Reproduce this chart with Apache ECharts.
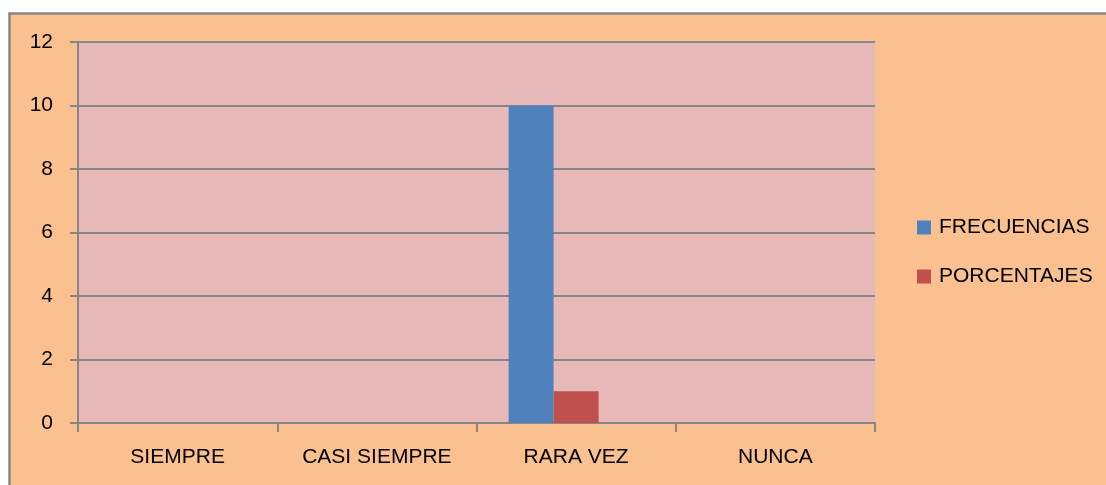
<!DOCTYPE html>
<html>
<head>
<meta charset="utf-8">
<script src="https://cdn.jsdelivr.net/npm/echarts@6/dist/echarts.min.js"></script>
<style>
html,body{margin:0;padding:0;background:#ffffff;}
#chart{width:1106px;height:485px;}
</style>
</head>
<body>
<div id="chart"></div>
<script>
const categories = ['SIEMPRE', 'CASI SIEMPRE', 'RARA VEZ', 'NUNCA'];
const frecuencias = [0, 0, 10, 0];
const porcentajes = [0, 0, 1, 0];
const tercera = [0, 0, 0, 0];
const seriesNames = ['FRECUENCIAS', 'PORCENTAJES'];
const yMin = 0, yMax = 12, yInterval = 2;

const FONT = "'Liberation Sans', Arial, sans-serif";
const FS = 21;
const GRAY = '#868686';
const chart = echarts.init(document.getElementById('chart'), null, {renderer: 'canvas'});
chart.setOption({
  animation: false,
  backgroundColor: '#ffffff',
  textStyle: {fontFamily: FONT},
  graphic: [{
    type: 'rect', z: -10, silent: true,
    shape: {x: 9.5, y: 13.5, width: 1200, height: 600},
    style: {fill: '#FAC090', stroke: GRAY, lineWidth: 2.5}
  }],
  grid: {
    left: 78, right: 231, top: 42, bottom: 62,
    show: true, backgroundColor: '#E6B9B8', borderWidth: 0
  },
  legend: {
    data: seriesNames,
    orient: 'vertical',
    padding: 0,
    left: 917, top: 217,
    itemWidth: 14, itemHeight: 14, itemGap: 28,
    icon: 'rect',
    textStyle: {fontFamily: FONT, fontSize: FS, lineHeight: 20, color: '#000', padding: [0, 0, 0, 3]}
  },
  xAxis: {
    type: 'category',
    data: categories,
    axisLine: {lineStyle: {color: GRAY, width: 2}},
    axisTick: {show: true, length: 9, lineStyle: {color: GRAY, width: 2}},
    axisLabel: {fontFamily: FONT, fontSize: FS, color: '#000', margin: 24}
  },
  yAxis: {
    type: 'value',
    min: yMin, max: yMax, interval: yInterval,
    axisLine: {show: true, lineStyle: {color: GRAY, width: 2}},
    axisTick: {show: true, length: 8, lineStyle: {color: GRAY, width: 2}},
    splitLine: {show: true, lineStyle: {color: GRAY, width: 2}},
    axisLabel: {fontFamily: FONT, fontSize: FS, color: '#000', margin: 25}
  },
  series: [
    {name: seriesNames[0], type: 'bar', data: frecuencias, barWidth: 45, barGap: '0%', itemStyle: {color: '#4F81BD'}},
    {name: seriesNames[1], type: 'bar', data: porcentajes, barWidth: 45, barGap: '0%', itemStyle: {color: '#C0504D'}},
    {name: 'serie3', type: 'bar', data: tercera, barWidth: 45, barGap: '0%', itemStyle: {color: '#9BBB59'}}
  ]
});
</script>
</body>
</html>
